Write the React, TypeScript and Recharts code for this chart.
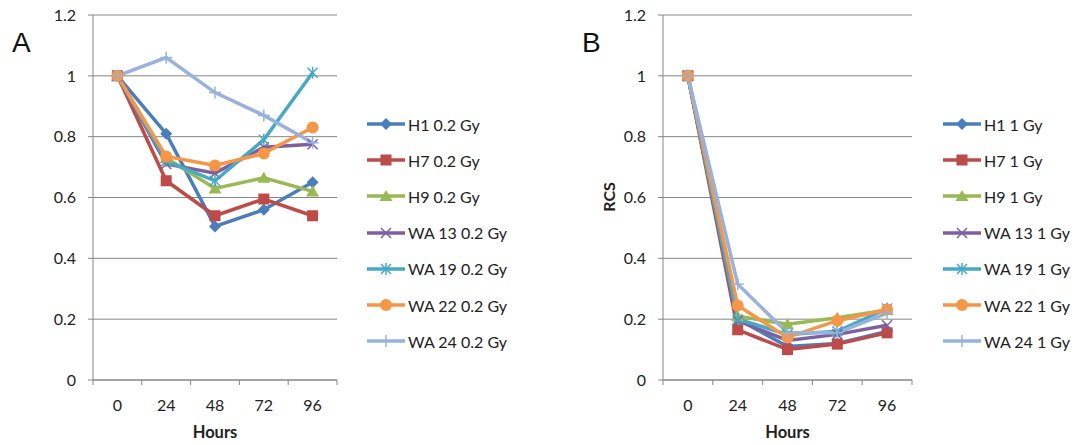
import { LineChart, Line, XAxis, YAxis, CartesianGrid } from 'recharts';

const hours = ['0', '24', '48', '72', '96'];
const yTicks = [0, 0.2, 0.4, 0.6, 0.8, 1, 1.2];
const lines = ['H1', 'H7', 'H9', 'WA 13', 'WA 19', 'WA 22', 'WA 24'];

// panel A, 0.2 Gy
const h1Low = [1, 0.81, 0.505, 0.56, 0.65];
const h7Low = [1, 0.655, 0.54, 0.595, 0.54];
const h9Low = [1, 0.73, 0.63, 0.665, 0.62];
const wa13Low = [1, 0.71, 0.68, 0.765, 0.775];
const wa19Low = [1, 0.72, 0.655, 0.79, 1.01];
const wa22Low = [1, 0.735, 0.705, 0.745, 0.83];
const wa24Low = [1, 1.06, 0.945, 0.87, 0.78];

// panel B, 1 Gy
const h1High = [1, 0.2, 0.11, 0.12, 0.16];
const h7High = [1, 0.165, 0.1, 0.118, 0.155];
const h9High = [1, 0.21, 0.183, 0.205, 0.23];
const wa13High = [1, 0.195, 0.13, 0.15, 0.18];
const wa19High = [1, 0.2, 0.15, 0.16, 0.235];
const wa22High = [1, 0.245, 0.14, 0.195, 0.232];
const wa24High = [1, 0.315, 0.155, 0.155, 0.22];

const colors = ['#4A7EBB', '#BE4B48', '#98B954', '#7D60A0', '#46AAC5', '#F79646', '#97B2DC'];
const shapes = ['diamond', 'square', 'triangle', 'cross', 'star', 'circle', 'plus'];

const FONT = 'Lato, "Open Sans", sans-serif';
const GRID = '#868686';

const toRows = (series: number[][]) =>
  hours.map((h, i) => {
    const row: Record<string, string | number> = { hour: h };
    series.forEach((s, k) => (row[`s${k}`] = s[i]));
    return row;
  });

function Marker({ cx, cy, shape, color }: { cx?: number; cy?: number; shape: string; color: string }) {
  if (cx == null || cy == null) return null;
  switch (shape) {
    case 'diamond':
      return <polygon points={`${cx},${cy - 6} ${cx + 6},${cy} ${cx},${cy + 6} ${cx - 6},${cy}`} fill={color} />;
    case 'square':
      return <rect x={cx - 5.5} y={cy - 5.5} width={11} height={11} fill={color} />;
    case 'triangle':
      return <polygon points={`${cx},${cy - 6} ${cx + 6.5},${cy + 5} ${cx - 6.5},${cy + 5}`} fill={color} />;
    case 'cross':
      return (
        <g stroke={color} strokeWidth={1.5}>
          <line x1={cx - 5} y1={cy - 5} x2={cx + 5} y2={cy + 5} />
          <line x1={cx - 5} y1={cy + 5} x2={cx + 5} y2={cy - 5} />
        </g>
      );
    case 'star':
      return (
        <g stroke={color} strokeWidth={1.5}>
          <line x1={cx - 5} y1={cy - 5} x2={cx + 5} y2={cy + 5} />
          <line x1={cx - 5} y1={cy + 5} x2={cx + 5} y2={cy - 5} />
          <line x1={cx} y1={cy - 6} x2={cx} y2={cy + 6} />
        </g>
      );
    case 'circle':
      return <circle cx={cx} cy={cy} r={6} fill={color} />;
    default:
      return (
        <g stroke={color} strokeWidth={1.5}>
          <line x1={cx} y1={cy - 6} x2={cx} y2={cy + 6} />
          <line x1={cx - 6} y1={cy} x2={cx + 6} y2={cy} />
        </g>
      );
  }
}

function XTick(props: any) {
  const { x, y, payload, index, step } = props;
  const last = index === hours.length - 1;
  return (
    <g>
      <line x1={x - step / 2} x2={x - step / 2} y1={y} y2={y + 5} stroke={GRID} />
      {last && <line x1={x + step / 2} x2={x + step / 2} y1={y} y2={y + 5} stroke={GRID} />}
      <text x={x} y={y + 31} textAnchor="middle" fill="#222" fontSize={16} fontFamily={FONT}>
        {payload.value}
      </text>
    </g>
  );
}

interface PanelProps {
  left: number;
  width: number;
  marginLeft: number;
  marginRight: number;
  series: number[][];
  dose: string;
  letter: string;
  letterX: number;
  legendX: number;
  showRcs: boolean;
}

function Panel({ left, width, marginLeft, marginRight, series, dose, letter, letterX, legendX, showRcs }: PanelProps) {
  const data = toRows(series);
  const plotW = width - marginLeft - marginRight - 40;
  const step = plotW / hours.length;
  const plotCenter = left + marginLeft + 40 + plotW / 2;
  return (
    <>
      <div style={{ position: 'absolute', left, top: 0 }}>
        <LineChart width={width} height={445} data={data} margin={{ top: 15, right: marginRight, bottom: 5, left: marginLeft }}>
          <CartesianGrid horizontal vertical={false} stroke={GRID} />
          <XAxis
            dataKey="hour"
            height={60}
            padding={{ left: step / 2, right: step / 2 }}
            axisLine={{ stroke: GRID }}
            tickLine={false}
            tickSize={0}
            tickMargin={0}
            interval={0}
            tick={(p: any) => <XTick {...p} step={step} />}
          />
          <YAxis
            width={40}
            domain={[0, 1.2]}
            ticks={yTicks}
            interval={0}
            axisLine={{ stroke: GRID }}
            tickLine={{ stroke: GRID }}
            tickSize={5}
            tickMargin={12}
            tickFormatter={(v: number) => String(v)}
            tick={{ fill: '#222', fontSize: 16, fontFamily: FONT }}
          />
          {series.map((_, k) => (
            <Line
              key={k}
              type="linear"
              dataKey={`s${k}`}
              stroke={colors[k]}
              strokeWidth={3.5}
              isAnimationActive={false}
              activeDot={false}
              dot={(p: any) => <Marker key={p.index} cx={p.cx} cy={p.cy} shape={shapes[k]} color={colors[k]} />}
            />
          ))}
        </LineChart>
      </div>
      <div style={{ position: 'absolute', left: letterX, top: 27, fontSize: 28, fontFamily: '"Liberation Sans", Arial, sans-serif', color: '#111' }}>
        {letter}
      </div>
      {showRcs && (
        <div
          style={{
            position: 'absolute',
            left: left + marginLeft - 15,
            top: 197,
            transform: 'translate(-50%, -50%) rotate(-90deg)',
            fontSize: 16,
            fontWeight: 700,
            fontFamily: FONT,
            color: '#222',
          }}
        >
          RCS
        </div>
      )}
      <div
        style={{
          position: 'absolute',
          left: plotCenter,
          top: 432,
          transform: 'translate(-50%, -50%)',
          fontSize: 16.5,
          fontWeight: 700,
          fontFamily: FONT,
          color: '#222',
        }}
      >
        Hours
      </div>
      <div style={{ position: 'absolute', left: legendX, top: 106 }}>
        {lines.map((name, k) => (
          <div key={name} style={{ display: 'flex', alignItems: 'center', height: 36.2 }}>
            <svg width={41} height={16}>
              <line x1={0} x2={38} y1={8} y2={8} stroke={colors[k]} strokeWidth={3.5} />
              <Marker cx={19} cy={8} shape={shapes[k]} color={colors[k]} />
            </svg>
            <span style={{ fontSize: 16, fontFamily: FONT, color: '#222', whiteSpace: 'nowrap' }}>
              {name} {dose}
            </span>
          </div>
        ))}
      </div>
    </>
  );
}

export default function App() {
  return (
    <div style={{ position: 'absolute', left: 0, top: 0, width: 1085, height: 445, background: '#fff', overflow: 'hidden' }}>
      <Panel
        left={0}
        width={540}
        marginLeft={53}
        marginRight={203}
        series={[h1Low, h7Low, h9Low, wa13Low, wa19Low, wa22Low, wa24Low]}
        dose="0.2 Gy"
        letter="A"
        letterX={12}
        legendX={367}
        showRcs={false}
      />
      <Panel
        left={540}
        width={545}
        marginLeft={83}
        marginRight={173}
        series={[h1High, h7High, h9High, wa13High, wa19High, wa22High, wa24High]}
        dose="1 Gy"
        letter="B"
        letterX={582}
        legendX={943}
        showRcs
      />
    </div>
  );
}
